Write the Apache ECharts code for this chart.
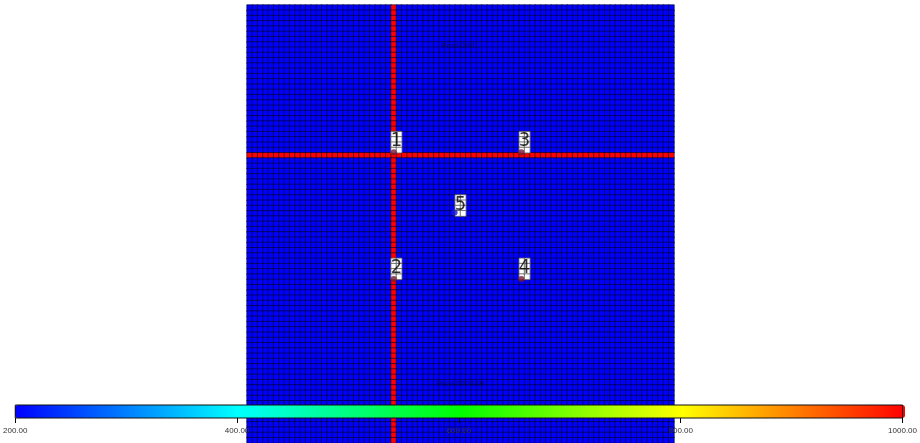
<!DOCTYPE html>
<html>
<head>
<meta charset="utf-8">
<title>Grid property map</title>
<script src="https://cdn.jsdelivr.net/npm/echarts@6/dist/echarts.min.js"></script>
<style>
  html, body { margin: 0; padding: 0; background: #ffffff; }
  #chart { width: 920px; height: 443px; }
</style>
</head>
<body>
<div id="chart"></div>
<script>
// Model grid size (cells)
const nCols = 80;
const nRows = 83;

// Cell property values: matrix background and the two high-value streaks
const matrixValue = 200;
const streakValue = 1000;
const streakRows = [28];
const streakCols = [27];

// Wells: label, top-left cell, footprint in cells, marker colour
const wellNames = ['1', '3', '5', '2', '4'];
const wellCols = [27, 51, 39, 27, 51];
const wellRows = [24, 24, 36, 48, 48];
const wellSpanCols = 2;
const wellSpanRows = 4;
const wellMarkerX = [27.0, 50.9, 38.4, 27.0, 50.9];
const wellMarkerY = [27.4, 27.4, 38.8, 51.4, 51.4];
const wellMarkerColors = ['#7b1830', '#7b1830', '#1b1bd0', '#7b1830', '#7b1830'];

// Region captions placed on the map (cell coordinates)
const captionTexts = ['Prod-0001', 'Prod-0002AB'];
const captionX = [39.4, 39.5];
const captionY = [7.2, 71.3];

// Colour scale
const scaleMin = 200;
const scaleMax = 1000;
const jetColors = ['#0000ff', '#00ffff', '#00ff00', '#ffff00', '#ff0000'];

// ---- build series data from the arrays above ----
const colCats = Array.from({ length: nCols }, (_, i) => String(i));
const rowCats = Array.from({ length: nRows }, (_, i) => String(i));

const wellCellKey = new Set();
wellCols.forEach((c, k) => {
  for (let dc = 0; dc < wellSpanCols; dc++) {
    for (let dr = 0; dr < wellSpanRows; dr++) {
      wellCellKey.add((c + dc) + ',' + (wellRows[k] + dr));
    }
  }
});

const fieldData = [];
const wellCellData = [];
for (let c = 0; c < nCols; c++) {
  for (let r = 0; r < nRows; r++) {
    if (wellCellKey.has(c + ',' + r)) {
      wellCellData.push([c, r, 0]);
      continue;
    }
    const v = (streakRows.includes(r) || streakCols.includes(c)) ? streakValue : matrixValue;
    fieldData.push([c, r, v]);
  }
}

const wellLabelData = wellNames.map((n, k) => ({
  name: n,
  value: [wellCols[k] + (wellSpanCols - 1) / 2, wellRows[k] + (wellSpanRows - 1) / 2 - 0.2]
}));
const wellMarkerData = wellNames.map((n, k) => ({
  name: n,
  value: [wellMarkerX[k], wellMarkerY[k]],
  itemStyle: { color: wellMarkerColors[k] }
}));
const captionData = captionTexts.map((t, k) => ({ name: t, value: [captionX[k], captionY[k]] }));

const chart = echarts.init(document.getElementById('chart'), null, { renderer: 'canvas' });

chart.setOption({
  animation: false,
  backgroundColor: '#ffffff',
  grid: [
    { left: 247, top: 5, width: 427, height: 443, containLabel: false },
    { left: 15, top: 405, width: 890, height: 13, show: true, z: 10,
      borderColor: '#111', borderWidth: 1, backgroundColor: 'transparent' }
  ],
  xAxis: [
    { type: 'category', gridIndex: 0, data: colCats, show: false },
    { type: 'value', gridIndex: 0, min: -0.5, max: nCols - 0.5, show: false },
    { type: 'value', gridIndex: 1, min: scaleMin, max: scaleMax, interval: 200,
      position: 'bottom', z: 11,
      axisLine: { show: false },
      axisTick: { show: true, length: 5, lineStyle: { color: '#000', width: 1 } },
      splitLine: { show: false },
      axisLabel: { margin: 9, fontSize: 8, color: '#333', fontFamily: 'Arial, Liberation Sans, sans-serif',
        formatter: v => v.toFixed(2) } }
  ],
  yAxis: [
    { type: 'category', gridIndex: 0, data: rowCats, inverse: true, show: false },
    { type: 'value', gridIndex: 0, min: -0.5, max: nRows - 0.5, inverse: true, show: false },
    { type: 'value', gridIndex: 1, show: false }
  ],
  visualMap: {
    type: 'continuous',
    seriesIndex: 0,
    min: scaleMin,
    max: scaleMax,
    orient: 'horizontal',
    left: 15,
    top: 405,
    itemWidth: 13,
    itemHeight: 890,
    padding: 0,
    calculable: false,
    hoverLink: false,
    text: null,
    showLabel: false,
    inRange: { color: jetColors }
  },
  series: [
    {
      name: 'Property',
      type: 'heatmap',
      xAxisIndex: 0, yAxisIndex: 0,
      data: fieldData,
      progressive: 0,
      itemStyle: { borderColor: 'rgba(0,0,40,0.75)', borderWidth: 0.8 },
      emphasis: { disabled: true }
    },
    {
      name: 'Well cells',
      type: 'heatmap',
      xAxisIndex: 0, yAxisIndex: 0,
      data: wellCellData,
      itemStyle: { color: '#ffffff', borderColor: '#555', borderWidth: 0.8 },
      emphasis: { disabled: true }
    },
    {
      name: 'Well markers',
      type: 'scatter',
      xAxisIndex: 1, yAxisIndex: 1,
      data: wellMarkerData,
      symbol: 'circle',
      symbolSize: 6,
      z: 5,
      emphasis: { disabled: true }
    },
    {
      name: 'Well names',
      type: 'scatter',
      xAxisIndex: 1, yAxisIndex: 1,
      data: wellLabelData,
      symbolSize: 0,
      z: 6,
      label: { show: true, position: 'inside', formatter: '{b}', color: '#000',
        fontSize: 20, fontFamily: '"Liberation Sans Narrow", "DejaVu Sans Condensed", Arial, sans-serif' },
      emphasis: { disabled: true }
    },
    {
      name: 'Captions',
      type: 'scatter',
      xAxisIndex: 1, yAxisIndex: 1,
      data: captionData,
      symbolSize: 0,
      z: 6,
      label: { show: true, position: 'inside', formatter: '{b}', color: '#0a0a3a',
        fontSize: 8, fontFamily: 'Arial, Liberation Sans, sans-serif' },
      emphasis: { disabled: true }
    }
  ]
});
</script>
</body>
</html>
